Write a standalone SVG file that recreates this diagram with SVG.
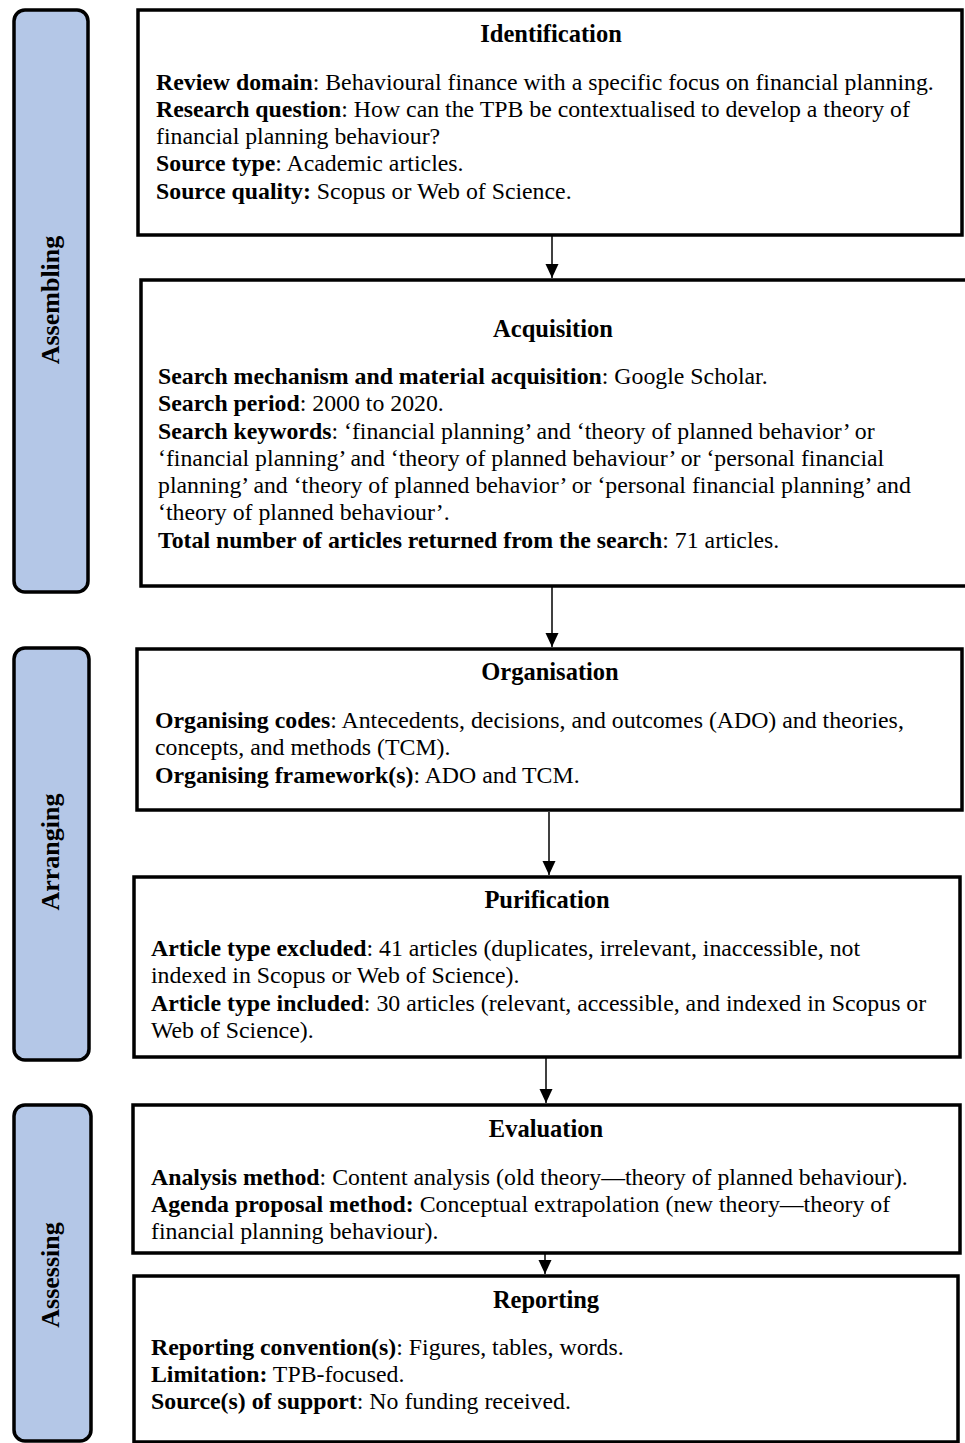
<svg xmlns="http://www.w3.org/2000/svg" width="965" height="1443" viewBox="0 0 965 1443">
<style>
.bar{fill:#B4C7E7;stroke:#000;stroke-width:3.5}
.box{fill:#fff;stroke:#000;stroke-width:3.5}
text{font-family:"Liberation Serif","Times New Roman",serif;font-size:23.8px;fill:#000}
.t{font-weight:bold;text-anchor:middle;font-size:24.5px}
.v{font-weight:bold;text-anchor:middle;font-size:26px}
.b{font-weight:bold}
.c{stroke:#000;stroke-width:1.5;fill:none}
</style>
<defs>
<marker id="ah" markerWidth="14" markerHeight="14" refX="14" refY="7" orient="auto" markerUnits="userSpaceOnUse" viewBox="0 0 14 14">
<path d="M0,0.5 L14,7 L0,13.5 Z" fill="#000"/>
</marker>
</defs>
<rect width="965" height="1443" fill="#fff"/>
<g id="stage-assembling">
<rect class="bar" x="14" y="10" width="74" height="582" rx="11"/>
<text class="v" transform="translate(59,300) rotate(-90)">Assembling</text>
</g>
<g id="stage-arranging">
<rect class="bar" x="14" y="648" width="75" height="412" rx="11"/>
<text class="v" transform="translate(59,852) rotate(-90)">Arranging</text>
</g>
<g id="stage-assessing">
<rect class="bar" x="14" y="1105" width="77" height="336" rx="11"/>
<text class="v" transform="translate(59,1275) rotate(-90)">Assessing</text>
</g>
<g id="connectors">
<line class="c" x1="552" y1="236" x2="552" y2="278" marker-end="url(#ah)"/>
<line class="c" x1="552" y1="587" x2="552" y2="647" marker-end="url(#ah)"/>
<line class="c" x1="549" y1="812" x2="549" y2="875" marker-end="url(#ah)"/>
<line class="c" x1="546" y1="1058" x2="546" y2="1103" marker-end="url(#ah)"/>
<line class="c" x1="545" y1="1254" x2="545" y2="1274" marker-end="url(#ah)"/>
</g>
<g id="identification">
<rect class="box" x="138" y="10" width="824" height="225"/>
<text class="t" x="551" y="42">Identification</text>
<text x="156" y="90"><tspan class="b">Review domain</tspan>: Behavioural finance with a specific focus on financial planning.</text>
<text x="156" y="117"><tspan class="b">Research question</tspan>: How can the TPB be contextualised to develop a theory of</text>
<text x="156" y="144">financial planning behaviour?</text>
<text x="156" y="171"><tspan class="b">Source type</tspan>: Academic articles.</text>
<text x="156" y="199"><tspan class="b">Source quality:</tspan> Scopus or Web of Science.</text>
</g>
<g id="acquisition">
<rect class="box" x="141" y="280" width="826" height="306"/>
<text class="t" x="553" y="337">Acquisition</text>
<text x="158" y="384"><tspan class="b">Search mechanism and material acquisition</tspan>: Google Scholar.</text>
<text x="158" y="411"><tspan class="b">Search period</tspan>: 2000 to 2020.</text>
<text x="158" y="439"><tspan class="b">Search keywords</tspan>: ‘financial planning’ and ‘theory of planned behavior’ or</text>
<text x="158" y="466">‘financial planning’ and ‘theory of planned behaviour’ or ‘personal financial</text>
<text x="158" y="493">planning’ and ‘theory of planned behavior’ or ‘personal financial planning’ and</text>
<text x="158" y="520">‘theory of planned behaviour’.</text>
<text x="158" y="548"><tspan class="b">Total number of articles returned from the search</tspan>: 71 articles.</text>
</g>
<g id="organisation">
<rect class="box" x="137" y="649" width="825" height="161"/>
<text class="t" x="550" y="680">Organisation</text>
<text x="155" y="728"><tspan class="b">Organising codes</tspan>: Antecedents, decisions, and outcomes (ADO) and theories,</text>
<text x="155" y="755">concepts, and methods (TCM).</text>
<text x="155" y="783"><tspan class="b">Organising framework(s)</tspan>: ADO and TCM.</text>
</g>
<g id="purification">
<rect class="box" x="134" y="877" width="826" height="180"/>
<text class="t" x="547" y="908">Purification</text>
<text x="151" y="956"><tspan class="b">Article type excluded</tspan>: 41 articles (duplicates, irrelevant, inaccessible, not</text>
<text x="151" y="983">indexed in Scopus or Web of Science).</text>
<text x="151" y="1011"><tspan class="b">Article type included</tspan>: 30 articles (relevant, accessible, and indexed in Scopus or</text>
<text x="151" y="1038">Web of Science).</text>
</g>
<g id="evaluation">
<rect class="box" x="133" y="1105" width="827" height="148"/>
<text class="t" x="546" y="1137">Evaluation</text>
<text x="151" y="1185"><tspan class="b">Analysis method</tspan>: Content analysis (old theory—theory of planned behaviour).</text>
<text x="151" y="1212"><tspan class="b">Agenda proposal method:</tspan> Conceptual extrapolation (new theory—theory of</text>
<text x="151" y="1239">financial planning behaviour).</text>
</g>
<g id="reporting">
<rect class="box" x="134" y="1276" width="824" height="166"/>
<text class="t" x="546" y="1308">Reporting</text>
<text x="151" y="1355"><tspan class="b">Reporting convention(s)</tspan>: Figures, tables, words.</text>
<text x="151" y="1382"><tspan class="b">Limitation:</tspan> TPB-focused.</text>
<text x="151" y="1409"><tspan class="b">Source(s) of support</tspan>: No funding received.</text>
</g>
</svg>
